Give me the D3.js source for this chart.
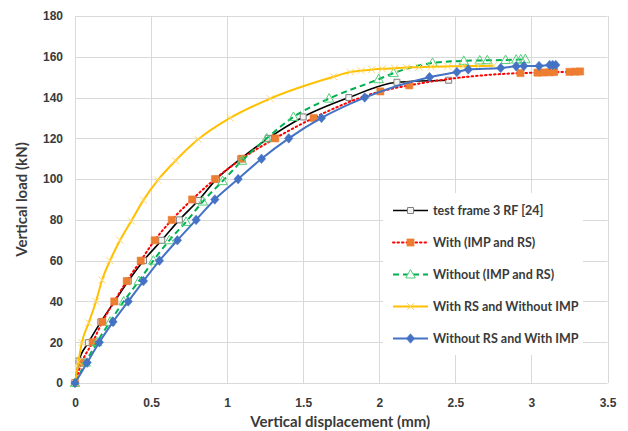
<!DOCTYPE html>
<html>
<head>
<meta charset="utf-8">
<script src="https://cdn.jsdelivr.net/npm/d3@7"></script>
<style>
  html, body { margin: 0; padding: 0; background: #fff; }
  svg { display: block; font-family: Lato, "Open Sans", sans-serif; }
</style>
</head>
<body>
<svg id="chart" width="628" height="431"></svg>
<script>
// Load–displacement curves (displacement in mm, load in kN)
const testX = [0, 0.026, 0.088, 0.17, 0.26, 0.35, 0.45, 0.57, 0.686, 0.81, 0.93, 1.09, 1.27, 1.50, 1.80, 2.116, 2.456];
const testY = [0, 10.8, 19.8, 30, 40, 50, 60, 70, 80, 89.5, 100, 110, 120, 130.5, 140, 147.5, 148.5];

const withBothX = [0, 0.044, 0.116, 0.18, 0.258, 0.34, 0.432, 0.524, 0.636, 0.77, 0.92, 1.097, 1.316, 1.568, 2.007, 2.197, 2.928, 3.04, 3.08, 3.12, 3.15, 3.25, 3.29, 3.32];
const withBothY = [0, 10, 20, 30, 40, 50, 60, 70, 80, 90, 100, 110, 120, 130, 143, 146, 152, 152.2, 152.3, 152.4, 152.5, 152.6, 152.7, 152.8];

const withoutBothX = [0, 0.07, 0.145, 0.23, 0.32, 0.42, 0.515, 0.62, 0.73, 0.84, 0.97, 1.097, 1.26, 1.436, 1.67, 1.996, 2.094, 2.35, 2.555, 2.66, 2.71, 2.83, 2.9, 2.93, 2.96];
const withoutBothY = [0, 10, 20, 30, 40, 50, 60, 70, 79, 89, 99, 109, 120, 130.5, 139.5, 149, 152, 157, 158, 158.2, 158.3, 158.4, 158.6, 158.7, 158.8];

const rsOnlyX = [0, 0.022, 0.045, 0.09, 0.138, 0.178, 0.23, 0.296, 0.37, 0.45, 0.544, 0.66, 0.81, 1.02, 1.283, 1.7, 1.81, 1.88, 1.95, 2.02, 2.1, 2.18, 2.26, 2.34, 2.45, 2.55, 2.65, 2.75];
const rsOnlyY = [0, 10.4, 19.8, 29.5, 40, 50.5, 60, 70, 79.5, 89.7, 99.5, 109, 119.5, 130, 139.5, 150.2, 152.5, 153.2, 153.7, 154.1, 154.4, 154.7, 154.9, 155.1, 155.3, 155.4, 155.5, 155.6];

const impOnlyX = [0, 0.08, 0.16, 0.25, 0.35, 0.45, 0.555, 0.673, 0.796, 0.919, 1.072, 1.226, 1.405, 1.62, 1.904, 2.33, 2.51, 2.585, 2.798, 2.9, 2.95, 3.05, 3.12, 3.14, 3.16];
const impOnlyY = [0, 10, 20, 30, 40, 50, 60, 70, 80, 90, 100, 110, 120, 130, 140, 150, 152.5, 153.8, 154.5, 155.3, 155.5, 155.5, 156, 156, 156];

const seriesNames = ["test frame 3 RF [24]", "With (IMP and RS)", "Without (IMP and RS)", "With RS and Without IMP", "Without RS and With IMP"];

const xTicks = [0, 0.5, 1, 1.5, 2, 2.5, 3, 3.5];
const yTicks = [0, 20, 40, 60, 80, 100, 120, 140, 160, 180];

const xTitle = "Vertical displacement (mm)";
const yTitle = "Vertical load (kN)";

// ---- layout ----
const svg = d3.select("#chart");
const plot = { left: 75, right: 607.5, top: 16, bottom: 383 };

const x = d3.scaleLinear().domain([0, 3.5]).range([plot.left, plot.right]);
const y = d3.scaleLinear().domain([0, 180]).range([plot.bottom, plot.top]);

const gridColor = "#d9d9d9";
const textColor = "#3a3a3a";

// gridlines
const grid = svg.append("g");
grid.selectAll("line.h").data(yTicks).join("line")
  .attr("x1", plot.left).attr("x2", plot.right)
  .attr("y1", d => Math.round(y(d)) + 0.5).attr("y2", d => Math.round(y(d)) + 0.5)
  .attr("stroke", gridColor).attr("stroke-width", 1);
grid.selectAll("line.v").data(xTicks).join("line")
  .attr("y1", plot.top).attr("y2", plot.bottom)
  .attr("x1", d => Math.round(x(d)) + 0.5).attr("x2", d => Math.round(x(d)) + 0.5)
  .attr("stroke", gridColor).attr("stroke-width", 1);

// axes (labels only; lines come from the grid)
const xAxis = d3.axisBottom(x).tickValues(xTicks).tickSize(0).tickPadding(15).tickFormat(d3.format("~g"));
const yAxis = d3.axisLeft(y).tickValues(yTicks).tickSize(0).tickPadding(12).tickFormat(d3.format("d"));

const gx = svg.append("g").attr("transform", `translate(0,${plot.bottom})`).call(xAxis);
const gy = svg.append("g").attr("transform", `translate(${plot.left},0)`).call(yAxis);
[gx, gy].forEach(g => {
  g.select(".domain").remove();
  g.selectAll("text").attr("fill", textColor).style("font-size", "12px").style("font-weight", "bold");
});

// axis titles
svg.append("text").text(xTitle)
  .attr("x", (plot.left + plot.right) / 2 - 1).attr("y", 427)
  .attr("text-anchor", "middle").attr("fill", textColor)
  .style("font-size", "15px").style("font-weight", "bold");
svg.append("text").text(yTitle)
  .attr("transform", `translate(27,${(plot.top + plot.bottom) / 2}) rotate(-90)`)
  .attr("text-anchor", "middle").attr("fill", textColor)
  .style("font-size", "15px").style("font-weight", "bold");

// ---- marker shapes ----
const squarePath = s => `M${-s},${-s}H${s}V${s}H${-s}Z`;
const diamondPath = (w, h) => `M0,${-h}L${w},0L0,${h}L${-w},0Z`;
const crossPath = s => `M${-s},${-s}L${s},${s}M${-s},${s}L${s},${-s}`;
const trianglePath = s => `M0,${-s}L${s * 0.95},${s * 0.7}L${-s * 0.95},${s * 0.7}Z`;

const series = [
  { name: seriesNames[0], xs: testX, ys: testY, line: "#000000", width: 1.6, dash: null,
    marker: squarePath(3), mFill: "#f2f2f2", mStroke: "#7f7f7f", mWidth: 1 },
  { name: seriesNames[1], xs: withBothX, ys: withBothY, line: "#ff0000", width: 2, dash: "1.5,3",
    marker: squarePath(3.6), mFill: "#ed7d31", mStroke: "#ed7d31", mWidth: 0.5 },
  { name: seriesNames[2], xs: withoutBothX, ys: withoutBothY, line: "#00b050", width: 2, dash: "6,4",
    marker: trianglePath(5), mFill: "none", mStroke: "#54cf7a", mWidth: 1 },
  { name: seriesNames[3], xs: rsOnlyX, ys: rsOnlyY, line: "#ffc000", width: 2, dash: null,
    marker: crossPath(3.5), mFill: "none", mStroke: "#ffd766", mWidth: 1 },
  { name: seriesNames[4], xs: impOnlyX, ys: impOnlyY, line: "#4472c4", width: 2, dash: null,
    marker: diamondPath(4.2, 4.8), mFill: "#4472c4", mStroke: "#4472c4", mWidth: 0.5 }
];

const lineGen = d3.line()
  .x(d => x(d[0])).y(d => y(d[1]))
  .curve(d3.curveMonotoneX);

const marks = svg.append("g");
series.forEach(s => {
  const pts = s.xs.map((v, i) => [v, s.ys[i]]);
  const g = marks.append("g");
  g.append("path").datum(pts)
    .attr("d", lineGen)
    .attr("fill", "none")
    .attr("stroke", s.line)
    .attr("stroke-width", s.width)
    .attr("stroke-dasharray", s.dash)
    .attr("stroke-linecap", s.dash && s.dash.startsWith("1.5") ? "round" : "butt");
  g.selectAll("path.m").data(pts).join("path")
    .attr("class", "m")
    .attr("d", s.marker)
    .attr("transform", d => `translate(${x(d[0])},${y(d[1])})`)
    .attr("fill", s.mFill)
    .attr("stroke", s.mStroke)
    .attr("stroke-width", s.mWidth);
});

// ---- legend ----
const legend = svg.append("g");
legend.append("rect")
  .attr("x", 383).attr("y", 193).attr("width", 200).attr("height", 162)
  .attr("fill", "#fff");
const rowY = [210.5, 242.5, 274.5, 306.5, 338.5];
series.forEach((s, i) => {
  const row = legend.append("g").attr("transform", `translate(0,${rowY[i]})`);
  row.append("line")
    .attr("x1", 393).attr("x2", 428).attr("y1", 0).attr("y2", 0)
    .attr("stroke", s.line).attr("stroke-width", s.width)
    .attr("stroke-dasharray", s.dash)
    .attr("stroke-linecap", s.dash && s.dash.startsWith("1.5") ? "round" : "butt");
  row.append("path")
    .attr("d", s.marker)
    .attr("transform", "translate(410.5,0)")
    .attr("fill", s.mFill === "none" ? "#fff" : s.mFill)
    .attr("stroke", s.mStroke).attr("stroke-width", s.mWidth);
  row.append("text").text(s.name)
    .attr("x", 433).attr("y", 4.5)
    .attr("fill", textColor)
    .style("font-size", "12.5px").style("font-weight", "bold");
});
</script>
</body>
</html>
